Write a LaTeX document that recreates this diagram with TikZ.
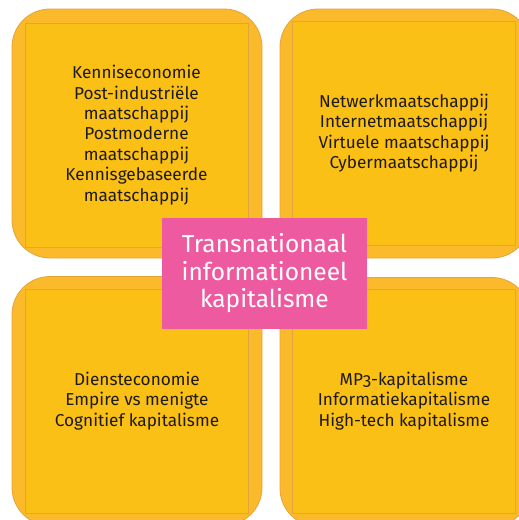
\documentclass[tikz,border=0pt]{standalone}
\usepackage{fontspec}
\setmainfont{Fira Sans}[Numbers=OldStyle]
\definecolor{boxouter}{HTML}{FBBA2B}
\definecolor{boxinner}{HTML}{FBC016}
\definecolor{boxedge}{HTML}{E3A43A}
\definecolor{pinkbox}{HTML}{EE5AA0}
\definecolor{txt}{HTML}{1E1A14}
\begin{document}
\begin{tikzpicture}[x=1pt,y=-1pt,
  outerbox/.style={draw=boxedge, fill=boxouter, rounded corners=38pt, line width=0.8pt,
    minimum width=250pt, minimum height=249pt, inner sep=0pt},
  innerbox/.style={draw=boxedge, fill=boxinner, line width=0.5pt,
    minimum width=223pt, minimum height=224pt, inner sep=0pt,
    align=center, text=txt, font=\fontsize{17.2}{20.4}\selectfont},
  centerbox/.style={fill=pinkbox, minimum width=205pt, minimum height=111pt, inner sep=0pt,
    align=center, text=white, font=\fontsize{24.5}{27.5}\selectfont}]
\useasboundingbox (0,0) rectangle (519,520);
\clip (0,0) rectangle (519,520);
\node[outerbox] (tlo) at (137,133.5) {};
\node[outerbox] (tro) at (405,133.5) {};
\node[outerbox] (blo) at (137,401) {};
\node[outerbox] (bro) at (405,402) {};
\node[innerbox] (tl) at (136.5,135) {Kenniseconomie\\Post-industriële\\maatschappij\\Postmoderne\\maatschappij\\Kennisgebaseerde\\maatschappij};
\node[innerbox] (tr) at (404,133) {Netwerkmaatschappij\\Internetmaatschappij\\Virtuele maatschappij\\Cybermaatschappij};
\node[innerbox] (bl) at (137,401) {Diensteconomie\\Empire vs menigte\\Cognitief kapitalisme};
\node[innerbox] (br) at (404,401) {MP3-kapitalisme\\Informatiekapitalisme\\High-tech kapitalisme};
\node[centerbox] (c) at (264.5,273.5) {Transnationaal\\informationeel\\kapitalisme};
\end{tikzpicture}
\end{document}
